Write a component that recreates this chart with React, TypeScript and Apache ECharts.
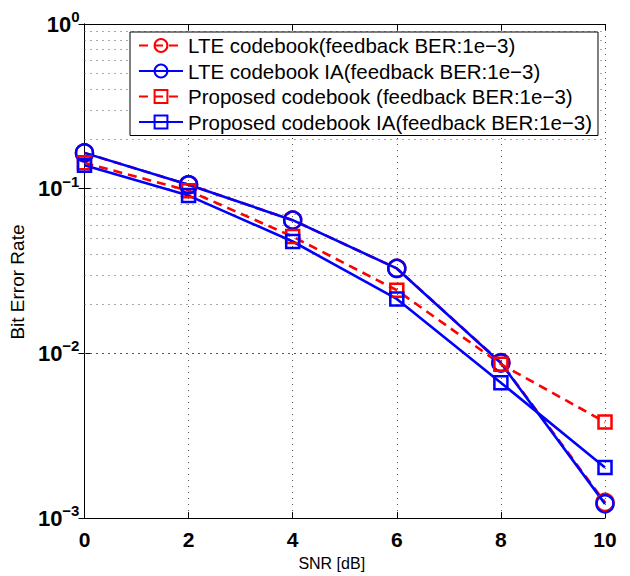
import React, { useEffect, useRef } from "react";
import * as echarts from "echarts";

const snr = [0, 2, 4, 6, 8, 10];
const lteBer = [0.165, 0.1057, 0.0644, 0.0328, 0.0088, 0.001245];
const lteIaBer = [0.165, 0.1057, 0.0644, 0.0328, 0.00875, 0.00122];
const proposedBer = [0.1436, 0.0973, 0.0512, 0.0242, 0.0086, 0.00383];
const proposedIaBer = [0.139, 0.0908, 0.0478, 0.0214, 0.00664, 0.00203];

const seriesNames = [
  "LTE codebook(feedback BER:1e\u22123)",
  "LTE codebook IA(feedback BER:1e\u22123)",
  "Proposed codebook (feedback BER:1e\u22123)",
  "Proposed codebook IA(feedback BER:1e\u22123)",
];
const minorGridValues = [
  0.002, 0.003, 0.004, 0.005, 0.006, 0.007, 0.008, 0.009,
  0.02, 0.03, 0.04, 0.05, 0.06, 0.07, 0.08, 0.09,
  0.2, 0.3, 0.4, 0.5, 0.6, 0.7, 0.8, 0.9,
];

const FONT = 'Arial, "Liberation Sans", Helvetica, sans-serif';
const RED = "#ff0000";
const BLUE = "#0000ff";
const dotted = { color: "#555", width: 1, type: [1, 5] as number[] };

function toPairs(ys: number[]) {
  return snr.map((x, i) => [x, ys[i]]);
}

function mkSeries(name: string, ys: number[], color: string, dashed: boolean, symbol: string, size: number, extra: any = {}) {
  return {
    name,
    type: "line",
    data: toPairs(ys),
    symbol,
    symbolSize: size,
    showAllSymbol: true,
    lineStyle: { color, width: 2.6, type: dashed ? [9, 6] : "solid" },
    itemStyle: { color: "rgba(0,0,0,0)", borderColor: color, borderWidth: 2.5 },
    emphasis: { disabled: true },
    ...extra,
  };
}

export default function App() {
  const ref = useRef<HTMLDivElement>(null);
  useEffect(() => {
    if (!ref.current) return;
    const chart = echarts.init(ref.current, undefined, { renderer: "svg" });
    const yLabel = (v: number) => {
      const e = Math.round(Math.log10(v));
      return `{b|10}{s|${e === 0 ? "0" : "\u2212" + -e}}`;
    };
    chart.setOption({
      animation: false,
      backgroundColor: "#fff",
      textStyle: { fontFamily: FONT },
      grid: { left: 83, top: 24, right: 25, bottom: 50, containLabel: false },
      legend: {
        orient: "vertical",
        left: 130,
        top: 32,
        padding: [3, 6, 3, 8],
        itemWidth: 44,
        itemHeight: 16,
        itemGap: 4.5,
        backgroundColor: "#fff",
        borderColor: "#000",
        borderWidth: 1,
        textStyle: { fontSize: 20.5, color: "#000", fontFamily: FONT, lineHeight: 20 },
        data: seriesNames,
      },
      xAxis: [
        {
          type: "value",
          min: 0,
          max: 10,
          interval: 2,
          name: "SNR [dB]",
          nameLocation: "middle",
          nameGap: 28,
          nameTextStyle: { fontSize: 16, color: "#000", fontFamily: FONT, padding: [0, 26, 0, 0] },
          axisLine: { lineStyle: { color: "#000", width: 1 } },
          axisTick: { inside: true, length: 6, lineStyle: { color: "#000" } },
          axisLabel: { margin: 11, fontSize: 21, fontWeight: "bold", color: "#000", fontFamily: FONT },
          splitLine: { show: true, lineStyle: dotted },
        },
        {
          type: "value",
          position: "top",
          min: 0,
          max: 10,
          interval: 2,
          axisLine: { show: true, lineStyle: { color: "#000", width: 1 } },
          axisTick: { show: true, inside: true, length: 6, lineStyle: { color: "#000" } },
          axisLabel: { show: false },
          splitLine: { show: false },
        },
      ],
      yAxis: [
        {
          type: "log",
          logBase: 10,
          min: 0.001,
          max: 1,
          name: "Bit Error Rate",
          nameLocation: "middle",
          nameGap: 49,
          nameTextStyle: { fontSize: 19, color: "#000", fontFamily: FONT, padding: [0, 22, 0, 0] },
          axisLine: { show: true, lineStyle: { color: "#000", width: 1 } },
          axisTick: { show: true, inside: true, length: 6, lineStyle: { color: "#000" } },
          axisLabel: {
            margin: 5,
            formatter: yLabel,
            color: "#000",
            rich: {
              b: { fontSize: 22, fontWeight: "bold", color: "#000", fontFamily: FONT },
              s: { fontSize: 15, fontWeight: "bold", color: "#000", fontFamily: FONT, padding: [0, 0, 15, 0] },
            },
          },
          splitLine: { show: true, lineStyle: dotted },
        },
        {
          type: "log",
          logBase: 10,
          min: 0.001,
          max: 1,
          position: "right",
          axisLine: { show: true, lineStyle: { color: "#000", width: 1 } },
          axisTick: { show: true, inside: true, length: 6, lineStyle: { color: "#000" } },
          axisLabel: { show: false },
          splitLine: { show: false },
        },
      ],
      series: [
        mkSeries(seriesNames[0], lteBer, RED, true, "circle", 17, {
          markLine: {
            silent: true,
            symbol: "none",
            z: 1,
            label: { show: false },
            lineStyle: dotted,
            emphasis: { disabled: true },
            data: minorGridValues.map((v) => ({ yAxis: v })),
          },
        }),
        mkSeries(seriesNames[1], lteIaBer, BLUE, false, "circle", 17),
        mkSeries(seriesNames[2], proposedBer, RED, true, "rect", 13),
        mkSeries(seriesNames[3], proposedIaBer, BLUE, false, "rect", 13),
      ],
    });
    return () => chart.dispose();
  }, []);
  return <div ref={ref} style={{ position: "fixed", left: 0, top: 0, width: 630, height: 576 }} />;
}
